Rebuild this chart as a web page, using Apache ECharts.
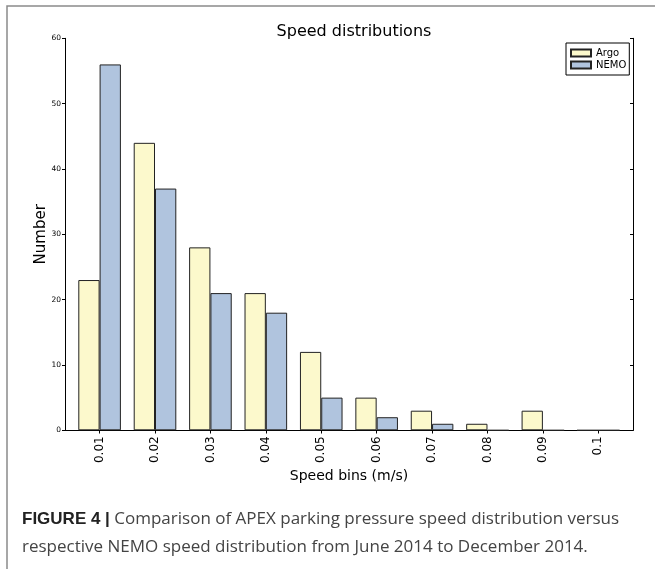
<!DOCTYPE html>
<html>
<head>
<meta charset="utf-8">
<script src="https://cdn.jsdelivr.net/npm/echarts@6/dist/echarts.min.js"></script>
<style>
  html, body { margin: 0; padding: 0; background: #fff; }
  #chart { width: 655px; height: 569px; }
</style>
</head>
<body>
<div id="chart"></div>
<script>
// speed bins (m/s) and counts per bin
const speedBins = [0.01, 0.02, 0.03, 0.04, 0.05, 0.06, 0.07, 0.08, 0.09, 0.1]
const argoCounts = [23, 44, 28, 21, 12, 5, 3, 1, 3, 0]
const nemoCounts = [56, 37, 21, 18, 5, 2, 1, 0, 0, 0]
const yTicks = [0, 10, 20, 30, 40, 50, 60]

const chart = echarts.init(document.getElementById('chart'))

const font = 'DejaVu Sans'
const xMin = 0.003756
const xMax = 0.106264

function fmtBin(v) {
    return String(+Number(v).toFixed(2))
}

const option = {
    backgroundColor: '#fff',
    animation: false,
    title: [
        {
            text: 'Speed distributions',
            left: 349,
            textAlign: 'center',
            top: 19,
            textStyle: { fontFamily: font, fontSize: 16, fontWeight: 'normal', color: '#000' },
        },
        {
            text: '{b|FIGURE 4 |} Comparison of APEX parking pressure speed distribution versus\nrespective NEMO speed distribution from June 2014 to December 2014.',
            left: 17,
            top: 500,
            textStyle: {
                fontFamily: 'Open Sans',
                fontSize: 17,
                fontWeight: 'normal',
                color: '#444',
                lineHeight: 28,
                rich: {
                    b: { fontFamily: 'Liberation Sans', fontSize: 17, fontWeight: 'bold', color: '#222', lineHeight: 28 },
                },
            },
        },
    ],
    graphic: [
        {
            type: 'rect',
            shape: { x: 7, y: 6, width: 700, height: 700 },
            style: { fill: 'none', stroke: '#8a8a8a', lineWidth: 1.5 },
            silent: true,
        },
    ],
    legend: {
        orient: 'vertical',
        left: 566,
        top: 43,
        padding: [5, 3, 5, 4],
        itemGap: 2,
        itemWidth: 20,
        itemHeight: 7,
        borderColor: '#000',
        borderWidth: 1,
        icon: 'rect',
        textStyle: { fontFamily: font, fontSize: 10, color: '#000' },
        data: ['Argo', 'NEMO'],
    },
    grid: {
        left: 65,
        top: 38.3,
        width: 568,
        height: 392,
        containLabel: false,
    },
    xAxis: [
        {
            type: 'value',
            min: xMin,
            max: xMax,
            position: 'bottom',
            name: 'Speed bins (m/s)',
            nameLocation: 'middle',
            nameGap: 39,
            nameMoveOverlap: false,
            nameTextStyle: { fontFamily: font, fontSize: 14, color: '#000' },
            axisLine: { lineStyle: { color: '#000', width: 1 } },
            axisTick: { inside: false, length: 3, customValues: speedBins, lineStyle: { color: '#000' } },
            axisLabel: {
                customValues: speedBins,
                rotate: 90,
                margin: 6,
                formatter: fmtBin,
                fontFamily: font,
                fontSize: 12,
                color: '#000',
            },
            splitLine: { show: false },
        },
        {
            type: 'value',
            min: xMin,
            max: xMax,
            position: 'top',
            axisLine: { lineStyle: { color: '#000', width: 1 } },
            axisTick: { inside: true, length: 3, customValues: speedBins, lineStyle: { color: '#000' } },
            axisLabel: { show: false },
            splitLine: { show: false },
        },
    ],
    yAxis: [
        {
            type: 'value',
            min: 0,
            max: 60,
            interval: 10,
            position: 'left',
            name: 'Number',
            nameLocation: 'middle',
            nameGap: 16,
            nameMoveOverlap: false,
            nameTextStyle: { fontFamily: font, fontSize: 15, color: '#000' },
            axisLine: { show: true, lineStyle: { color: '#000', width: 1 } },
            axisTick: { show: true, inside: false, length: 3, lineStyle: { color: '#000' } },
            axisLabel: {
                margin: 4,
                fontFamily: font,
                fontSize: 7.5,
                color: '#000',
                formatter: v => (yTicks.includes(v) ? String(v) : ''),
            },
            splitLine: { show: false },
        },
        {
            type: 'value',
            min: 0,
            max: 60,
            interval: 10,
            position: 'right',
            axisLine: { show: true, lineStyle: { color: '#000', width: 1 } },
            axisTick: { show: true, inside: true, length: 3, lineStyle: { color: '#000' } },
            axisLabel: { show: false },
            splitLine: { show: false },
        },
    ],
    series: [
        {
            name: 'Argo',
            type: 'bar',
            xAxisIndex: 0,
            yAxisIndex: 0,
            barWidth: 21.3,
            barGap: '0%',
            data: speedBins.map((b, i) => [b, argoCounts[i]]),
            itemStyle: { color: '#fcf9cc', borderColor: '#222', borderWidth: 1 },
        },
        {
            name: 'NEMO',
            type: 'bar',
            xAxisIndex: 0,
            yAxisIndex: 0,
            barWidth: 21.3,
            barGap: '0%',
            data: speedBins.map((b, i) => [b, nemoCounts[i]]),
            itemStyle: { color: '#b0c4de', borderColor: '#222', borderWidth: 1 },
        },
    ],
}

chart.setOption(option)
window.addEventListener('resize', () => {
    chart.resize()
})
</script>
</body>
</html>
